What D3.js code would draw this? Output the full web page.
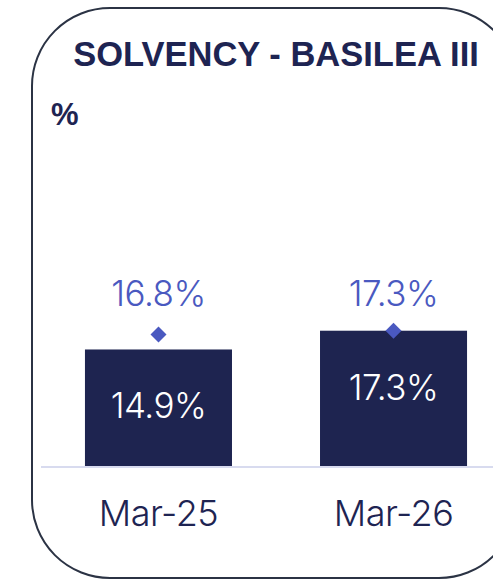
<!DOCTYPE html>
<html>
<head>
<style>
  body { margin: 0; background: #fff; }
  svg { display: block; }
  .title { font-family: "Liberation Sans", Arial, sans-serif; font-weight: bold; fill: #1e2452; }
  .lbl { font-family: Inter, "Noto Sans", sans-serif; font-weight: 300; }
</style>
</head>
<body>
<svg width="493" height="579"></svg>
<script src="https://d3js.org/d3.v7.min.js"></script>
<script>
// data
var categories = ["Mar-25", "Mar-26"];
var barValues = [14.9, 17.3];
var markerValues = [16.8, 17.3];

var svg = d3.select("svg");
var width = 493, height = 579;

// frame: rounded box running off the right edge
svg.append("rect")
    .attr("x", 32).attr("y", 8)
    .attr("width", 485).attr("height", 570)
    .attr("rx", 78).attr("ry", 78)
    .attr("fill", "none")
    .attr("stroke", "#2b3344")
    .attr("stroke-width", 2);

svg.append("text")
    .attr("class", "title")
    .attr("x", 276).attr("y", 66)
    .attr("text-anchor", "middle")
    .style("font-size", "34.5px")
    .text("SOLVENCY - BASILEA III");

svg.append("text")
    .attr("class", "title")
    .attr("x", 51).attr("y", 125)
    .style("font-size", "31px")
    .text("%");

var x = d3.scaleBand()
    .domain(categories)
    .range([41, 511])
    .paddingInner(0.3745)
    .paddingOuter(0.187);

var y = d3.scaleLinear()
    .domain([0, 20])
    .range([466, 466 - 20 * 7.82]);

// bars
svg.selectAll(".bar")
    .data(barValues)
    .enter().append("rect")
    .attr("class", "bar")
    .attr("x", function(d, i) { return x(categories[i]); })
    .attr("y", function(d) { return y(d); })
    .attr("width", x.bandwidth())
    .attr("height", function(d) { return y(0) - y(d); })
    .attr("fill", "#1e2450");

// baseline
svg.append("line")
    .attr("x1", 41).attr("x2", width)
    .attr("y1", y(0) + 1).attr("y2", y(0) + 1)
    .attr("stroke", "#d8dbef")
    .attr("stroke-width", 2);

// labels inside bars
svg.selectAll(".inlbl")
    .data(barValues)
    .enter().append("text")
    .attr("class", "lbl")
    .attr("x", function(d, i) { return x(categories[i]) + x.bandwidth() / 2; })
    .attr("y", function(d) { return y(d) + 69; })
    .attr("text-anchor", "middle")
    .attr("fill", "#ffffff")
    .style("font-size", "35px")
    .style("letter-spacing", "-0.5px")
    .text(function(d) { return d.toFixed(1) + "%"; });

// diamond markers
svg.selectAll(".marker")
    .data(markerValues)
    .enter().append("path")
    .attr("class", "marker")
    .attr("d", "M0,-8L8,0L0,8L-8,0Z")
    .attr("transform", function(d, i) {
        return "translate(" + (x(categories[i]) + x.bandwidth() / 2) + "," + y(d) + ")";
    })
    .attr("fill", "#4a59c0");

var topY = y(d3.max(markerValues)) - 25;
svg.selectAll(".mlbl")
    .data(markerValues)
    .enter().append("text")
    .attr("class", "lbl")
    .attr("x", function(d, i) { return x(categories[i]) + x.bandwidth() / 2; })
    .attr("y", topY)
    .attr("text-anchor", "middle")
    .attr("fill", "#4a59c0")
    .style("font-size", "35px")
    .style("letter-spacing", "-0.5px")
    .text(function(d) { return d.toFixed(1) + "%"; });

// category labels
svg.selectAll(".cat")
    .data(categories)
    .enter().append("text")
    .attr("class", "lbl")
    .attr("x", function(d) { return x(d) + x.bandwidth() / 2; })
    .attr("y", 526)
    .attr("text-anchor", "middle")
    .attr("fill", "#1e2452")
    .style("font-size", "36px")
    .style("letter-spacing", "-0.5px")
    .text(function(d) { return d; });
</script>
</body>
</html>
